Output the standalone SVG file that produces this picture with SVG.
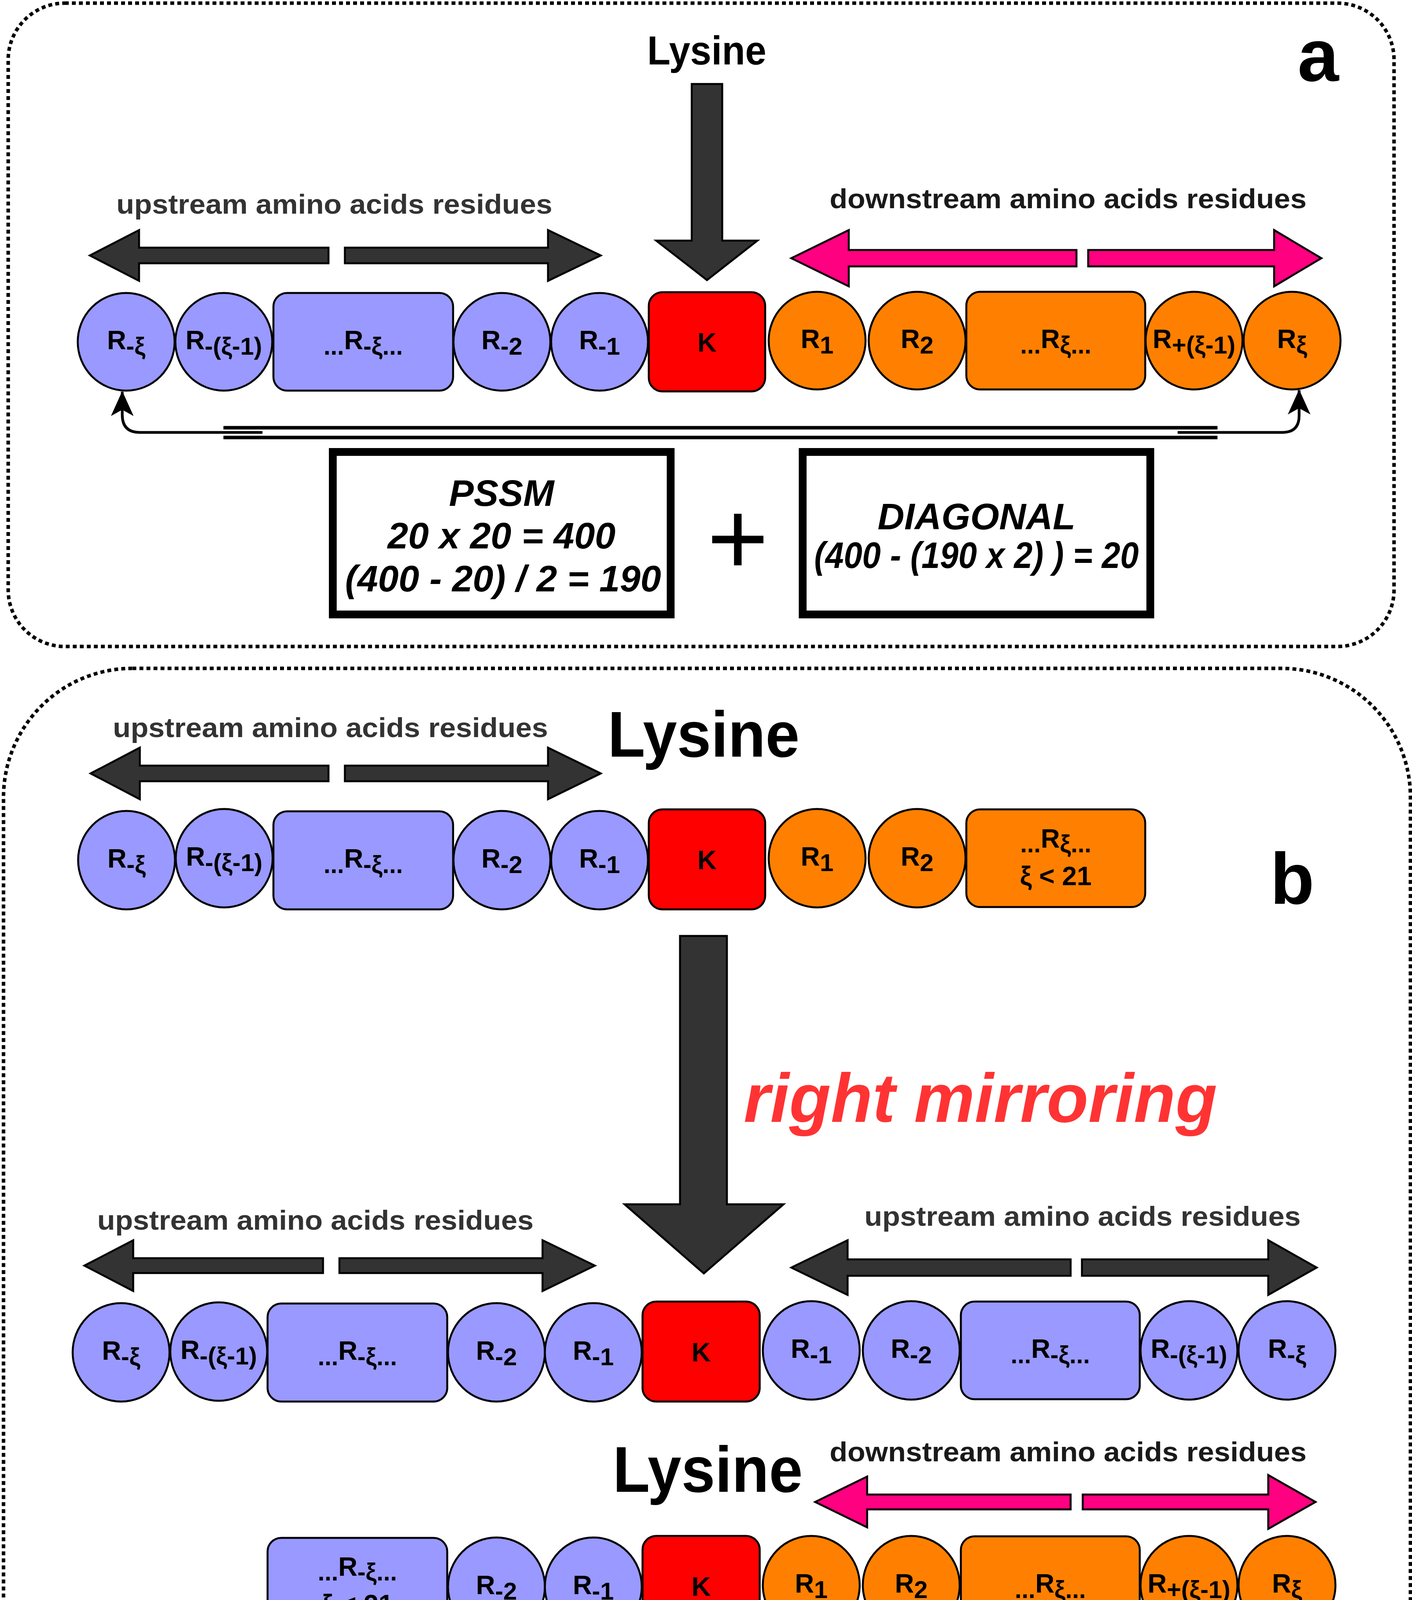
<svg xmlns="http://www.w3.org/2000/svg" width="3615" height="5560" viewBox="0 0 3615 5560">
<defs>
<style>
.frame{fill:none;stroke:#000;stroke-width:9;stroke-dasharray:10 8}
.lav{fill:#9999FF;stroke:#000;stroke-width:5}
.org{fill:#FF8000;stroke:#000;stroke-width:5}
.kk{fill:#FF0000;stroke:#000;stroke-width:5}
.dark{fill:#333333;stroke:#000;stroke-width:5}
.pink{fill:#FF0080;stroke:#000;stroke-width:5}
.lpink{fill:#FF3399;stroke:#000;stroke-width:5}
.big{fill:#333333;stroke:#000;stroke-width:5}
text{font-family:"Liberation Sans",Arial,Helvetica,sans-serif;font-weight:bold}
.lbl{font-size:68px;fill:#000}
.sub{font-size:63px}
.hdr{font-size:70px}
.g3{fill:#333333}
.g1{fill:#1A1A1A}
.lys{fill:#000}
.tag{fill:#000}
.mir{font-style:italic;font-size:176px;fill:#FF3333}
.frm{font-style:italic;font-size:95px;fill:#000}
.fbox{fill:#fff;stroke:#000;stroke-width:20}
.link{fill:none;stroke:#000;stroke-width:9}
.conn{fill:none;stroke:#000;stroke-width:7}
</style>
<marker id="ah" markerUnits="userSpaceOnUse" markerWidth="64" markerHeight="60" viewBox="0 0 64 60" refX="62" refY="30" orient="auto">
<path d="M0,1 L64,30 L0,59 L16,30 Z" fill="#000"/>
</marker>
</defs>
<rect width="3615" height="5560" fill="#fff"/>

<g id="frame-a"><rect class="frame" x="21" y="8" width="3548" height="1647" rx="145" ry="145"/></g>
<g id="frame-b"><rect class="frame" x="9" y="1711" width="3602" height="3842" rx="330" ry="330"/></g>

<!-- ===== Panel a ===== -->
<g id="label-a"><text class="tag" x="3322" y="207" font-size="190">a</text></g>
<g id="lysine-a"><text class="lys" x="1657" y="165" font-size="103" textLength="305" lengthAdjust="spacingAndGlyphs">Lysine</text></g>
<g id="bigarrow-a"><polygon class="big" points="1771,215 1849,215 1849,616 1939,616 1810,717 1680,616 1771,616"/></g>

<g id="up-a">
<text class="hdr g3" x="298" y="547" textLength="1116" lengthAdjust="spacingAndGlyphs">upstream amino acids residues</text>
<polygon class="dark" points="230,654 356,589 356,634 841,634 841,674 356,674 356,719"/>
<polygon class="dark" points="883,634 1403,634 1403,589 1538,654 1403,719 1403,674 883,674"/>
</g>
<g id="down-a">
<text class="hdr g1" x="2124" y="533" textLength="1221" lengthAdjust="spacingAndGlyphs">downstream amino acids residues</text>
<polygon class="pink" points="2026,661 2173,589 2173,640 2756,640 2756,682 2173,682 2173,733"/>
<polygon class="pink" points="2786,640 3262,640 3262,589 3383,661 3262,733 3262,682 2786,682"/>
</g>

<g id="a-rmxi"><ellipse class="lav" cx="323" cy="875" rx="124" ry="125"/><text class="lbl" x="323" y="894" text-anchor="middle">R<tspan class="sub" dy="14">-ξ</tspan></text></g>
<g id="a-rmxi1"><ellipse class="lav" cx="573" cy="875" rx="124" ry="125"/><text class="lbl" x="573" y="894" text-anchor="middle">R<tspan class="sub" dy="14">-(ξ-1)</tspan></text></g>
<g id="a-rmdots"><rect class="lav" x="700" y="750" width="460" height="250" rx="35"/><text class="lbl" x="930" y="894" text-anchor="middle"><tspan class="sub" dy="14">...</tspan><tspan dy="-14">R</tspan><tspan class="sub" dy="14">-ξ...</tspan></text></g>
<g id="a-rm2"><ellipse class="lav" cx="1285" cy="875" rx="124" ry="125"/><text class="lbl" x="1285" y="894" text-anchor="middle">R<tspan class="sub" dy="14">-2</tspan></text></g>
<g id="a-rm1"><ellipse class="lav" cx="1535" cy="875" rx="124" ry="125"/><text class="lbl" x="1535" y="894" text-anchor="middle">R<tspan class="sub" dy="14">-1</tspan></text></g>
<g id="a-k"><rect class="kk" x="1661" y="748" width="298" height="254" rx="35"/><text class="lbl" x="1810" y="900" text-anchor="middle">K</text></g>
<g id="a-r1"><ellipse class="org" cx="2092" cy="872" rx="124" ry="125"/><text class="lbl" x="2092" y="891" text-anchor="middle">R<tspan class="sub" dy="14">1</tspan></text></g>
<g id="a-r2"><ellipse class="org" cx="2348" cy="872" rx="124" ry="125"/><text class="lbl" x="2348" y="891" text-anchor="middle">R<tspan class="sub" dy="14">2</tspan></text></g>
<g id="a-rdots"><rect class="org" x="2474" y="747" width="458" height="250" rx="35"/><text class="lbl" x="2703" y="891" text-anchor="middle"><tspan class="sub" dy="14">...</tspan><tspan dy="-14">R</tspan><tspan class="sub" dy="14">ξ...</tspan></text></g>
<g id="a-rpxi1"><ellipse class="org" cx="3057" cy="872" rx="124" ry="125"/><text class="lbl" x="3057" y="891" text-anchor="middle">R<tspan class="sub" dy="14">+(ξ-1)</tspan></text></g>
<g id="a-rxi"><ellipse class="org" cx="3308" cy="872" rx="124" ry="125"/><text class="lbl" x="3308" y="891" text-anchor="middle">R<tspan class="sub" dy="14">ξ</tspan></text></g>

<g id="connectors-a">
<line class="link" x1="572" y1="1095" x2="3117" y2="1095"/>
<line class="link" x1="572" y1="1120" x2="3117" y2="1120"/>
<path class="conn" d="M672,1107 L358,1107 Q313,1107 313,1062 L313,1003" marker-end="url(#ah)"/>
<path class="conn" d="M3015,1107 L3283,1107 Q3326,1107 3326,1064 L3326,999" marker-end="url(#ah)"/>
</g>

<g id="pssm-box"><rect class="fbox" x="852" y="1157" width="865" height="416"/>
<text class="frm" x="1284" y="1295" text-anchor="middle">PSSM</text>
<text class="frm" x="1284" y="1404" text-anchor="middle">20 x 20 = 400</text>
<text class="frm" x="1288" y="1514" text-anchor="middle" textLength="809" lengthAdjust="spacingAndGlyphs">(400 - 20) / 2 = 190</text>
</g>
<g id="plus"><text x="1889" y="1471" text-anchor="middle" font-size="270" style="font-weight:normal" fill="#000">+</text></g>
<g id="diagonal-box"><rect class="fbox" x="2055" y="1157" width="890" height="416"/>
<text class="frm" x="2500" y="1355" text-anchor="middle">DIAGONAL</text>
<text class="frm" x="2500" y="1454" text-anchor="middle" textLength="831" lengthAdjust="spacingAndGlyphs">(400 - (190 x 2) ) = 20</text>
</g>

<!-- ===== Panel b ===== -->
<g id="label-b"><text class="tag" x="3252" y="2314" font-size="185">b</text></g>
<g id="lysine-b1"><text class="lys" x="1556" y="1937" font-size="165" textLength="491" lengthAdjust="spacingAndGlyphs">Lysine</text></g>
<g id="up-b1">
<text class="hdr g3" x="289" y="1887" textLength="1114" lengthAdjust="spacingAndGlyphs">upstream amino acids residues</text>
<polygon class="dark" points="232,1980 358,1914 358,1960 841,1960 841,2000 358,2000 358,2046"/>
<polygon class="dark" points="883,1960 1403,1960 1403,1914 1538,1980 1403,2046 1403,2000 883,2000"/>
</g>

<g id="b1-rmxi"><ellipse class="lav" cx="324" cy="2202" rx="124" ry="126"/><text class="lbl" x="324" y="2221" text-anchor="middle">R<tspan class="sub" dy="14">-ξ</tspan></text></g>
<g id="b1-rmxi1"><ellipse class="lav" cx="574" cy="2197" rx="124" ry="126"/><text class="lbl" x="574" y="2216" text-anchor="middle">R<tspan class="sub" dy="14">-(ξ-1)</tspan></text></g>
<g id="b1-rmdots"><rect class="lav" x="700" y="2077" width="460" height="251" rx="35"/><text class="lbl" x="930" y="2221" text-anchor="middle"><tspan class="sub" dy="14">...</tspan><tspan dy="-14">R</tspan><tspan class="sub" dy="14">-ξ...</tspan></text></g>
<g id="b1-rm2"><ellipse class="lav" cx="1285" cy="2202" rx="124" ry="126"/><text class="lbl" x="1285" y="2221" text-anchor="middle">R<tspan class="sub" dy="14">-2</tspan></text></g>
<g id="b1-rm1"><ellipse class="lav" cx="1535" cy="2202" rx="124" ry="126"/><text class="lbl" x="1535" y="2221" text-anchor="middle">R<tspan class="sub" dy="14">-1</tspan></text></g>
<g id="b1-k"><rect class="kk" x="1661" y="2072" width="298" height="256" rx="35"/><text class="lbl" x="1810" y="2225" text-anchor="middle">K</text></g>
<g id="b1-r1"><ellipse class="org" cx="2092" cy="2197" rx="124" ry="126"/><text class="lbl" x="2092" y="2216" text-anchor="middle">R<tspan class="sub" dy="14">1</tspan></text></g>
<g id="b1-r2"><ellipse class="org" cx="2348" cy="2197" rx="124" ry="126"/><text class="lbl" x="2348" y="2216" text-anchor="middle">R<tspan class="sub" dy="14">2</tspan></text></g>
<g id="b1-rdots"><rect class="org" x="2474" y="2072" width="458" height="250" rx="35"/>
<text class="lbl" x="2703" y="2170" text-anchor="middle"><tspan class="sub" dy="12">...</tspan><tspan dy="-12">R</tspan><tspan class="sub" dy="12">ξ...</tspan></text>
<text class="lbl" x="2703" y="2266" text-anchor="middle">ξ &lt; 21</text></g>

<g id="bigarrow-b1"><polygon class="big" points="1741,2396 1861,2396 1861,3083 2006,3083 1802,3260 1599,3083 1741,3083"/></g>
<g id="right-mirroring"><text class="mir" x="1904" y="2872" textLength="1212" lengthAdjust="spacingAndGlyphs">right mirroring</text></g>

<g id="up-b2-left">
<text class="hdr g3" x="249" y="3148" textLength="1117" lengthAdjust="spacingAndGlyphs">upstream amino acids residues</text>
<polygon class="dark" points="216,3240 341,3175 341,3221 827,3221 827,3259 341,3259 341,3305"/>
<polygon class="dark" points="869,3221 1389,3221 1389,3175 1523,3240 1389,3305 1389,3259 869,3259"/>
</g>
<g id="up-b2-right">
<text class="hdr g3" x="2213" y="3138" textLength="1117" lengthAdjust="spacingAndGlyphs">upstream amino acids residues</text>
<polygon class="dark" points="2026,3245 2170,3175 2170,3224 2741,3224 2741,3266 2170,3266 2170,3315"/>
<polygon class="dark" points="2770,3224 3247,3224 3247,3175 3371,3245 3247,3315 3247,3266 2770,3266"/>
</g>

<g id="b2-rmxi"><ellipse class="lav" cx="310" cy="3462" rx="124" ry="126"/><text class="lbl" x="310" y="3481" text-anchor="middle">R<tspan class="sub" dy="14">-ξ</tspan></text></g>
<g id="b2-rmxi1"><ellipse class="lav" cx="560" cy="3460" rx="124" ry="126"/><text class="lbl" x="560" y="3479" text-anchor="middle">R<tspan class="sub" dy="14">-(ξ-1)</tspan></text></g>
<g id="b2-rmdots"><rect class="lav" x="685" y="3337" width="460" height="251" rx="35"/><text class="lbl" x="915" y="3481" text-anchor="middle"><tspan class="sub" dy="14">...</tspan><tspan dy="-14">R</tspan><tspan class="sub" dy="14">-ξ...</tspan></text></g>
<g id="b2-rm2"><ellipse class="lav" cx="1271" cy="3462" rx="124" ry="126"/><text class="lbl" x="1271" y="3481" text-anchor="middle">R<tspan class="sub" dy="14">-2</tspan></text></g>
<g id="b2-rm1"><ellipse class="lav" cx="1519" cy="3462" rx="124" ry="126"/><text class="lbl" x="1519" y="3481" text-anchor="middle">R<tspan class="sub" dy="14">-1</tspan></text></g>
<g id="b2-k"><rect class="kk" x="1645" y="3332" width="300" height="256" rx="35"/><text class="lbl" x="1795" y="3485" text-anchor="middle">K</text></g>
<g id="b2-rm1b"><ellipse class="lav" cx="2077" cy="3457" rx="124" ry="126"/><text class="lbl" x="2077" y="3476" text-anchor="middle">R<tspan class="sub" dy="14">-1</tspan></text></g>
<g id="b2-rm2b"><ellipse class="lav" cx="2333" cy="3457" rx="124" ry="126"/><text class="lbl" x="2333" y="3476" text-anchor="middle">R<tspan class="sub" dy="14">-2</tspan></text></g>
<g id="b2-rmdotsb"><rect class="lav" x="2460" y="3332" width="458" height="250" rx="35"/><text class="lbl" x="2689" y="3476" text-anchor="middle"><tspan class="sub" dy="14">...</tspan><tspan dy="-14">R</tspan><tspan class="sub" dy="14">-ξ...</tspan></text></g>
<g id="b2-rmxi1b"><ellipse class="lav" cx="3044" cy="3457" rx="124" ry="126"/><text class="lbl" x="3044" y="3476" text-anchor="middle">R<tspan class="sub" dy="14">-(ξ-1)</tspan></text></g>
<g id="b2-rmxib"><ellipse class="lav" cx="3295" cy="3457" rx="124" ry="126"/><text class="lbl" x="3295" y="3476" text-anchor="middle">R<tspan class="sub" dy="14">-ξ</tspan></text></g>

<g id="lysine-b3"><text class="lys" x="1569" y="3819" font-size="165" textLength="486" lengthAdjust="spacingAndGlyphs">Lysine</text></g>
<g id="down-b3">
<text class="hdr g1" x="2124" y="3741" textLength="1221" lengthAdjust="spacingAndGlyphs">downstream amino acids residues</text>
<polygon class="pink" points="2087,3845 2220,3780 2220,3826 2741,3826 2741,3864 2220,3864 2220,3910"/>
<polygon class="pink" points="2772,3826 3247,3826 3247,3776 3368,3845 3247,3914 3247,3864 2772,3864"/>
</g>

<g id="b3-rmdots"><rect class="lav" x="685" y="3937" width="460" height="251" rx="35"/>
<text class="lbl" x="915" y="4034" text-anchor="middle"><tspan class="sub" dy="12">...</tspan><tspan dy="-12">R</tspan><tspan class="sub" dy="12">-ξ...</tspan></text>
<text class="lbl" x="915" y="4130" text-anchor="middle">ξ &lt; 21</text></g>
<g id="b3-rm2"><ellipse class="lav" cx="1271" cy="4062" rx="124" ry="126"/><text class="lbl" x="1271" y="4081" text-anchor="middle">R<tspan class="sub" dy="14">-2</tspan></text></g>
<g id="b3-rm1"><ellipse class="lav" cx="1519" cy="4062" rx="124" ry="126"/><text class="lbl" x="1519" y="4081" text-anchor="middle">R<tspan class="sub" dy="14">-1</tspan></text></g>
<g id="b3-k"><rect class="kk" x="1645" y="3932" width="300" height="256" rx="35"/><text class="lbl" x="1795" y="4085" text-anchor="middle">K</text></g>
<g id="b3-r1"><ellipse class="org" cx="2077" cy="4058" rx="124" ry="126"/><text class="lbl" x="2077" y="4077" text-anchor="middle">R<tspan class="sub" dy="14">1</tspan></text></g>
<g id="b3-r2"><ellipse class="org" cx="2333" cy="4058" rx="124" ry="126"/><text class="lbl" x="2333" y="4077" text-anchor="middle">R<tspan class="sub" dy="14">2</tspan></text></g>
<g id="b3-rdots"><rect class="org" x="2460" y="3933" width="458" height="250" rx="35"/><text class="lbl" x="2689" y="4077" text-anchor="middle"><tspan class="sub" dy="14">...</tspan><tspan dy="-14">R</tspan><tspan class="sub" dy="14">ξ...</tspan></text></g>
<g id="b3-rpxi1"><ellipse class="org" cx="3044" cy="4058" rx="124" ry="126"/><text class="lbl" x="3044" y="4077" text-anchor="middle">R<tspan class="sub" dy="14">+(ξ-1)</tspan></text></g>
<g id="b3-rxi"><ellipse class="org" cx="3295" cy="4058" rx="124" ry="126"/><text class="lbl" x="3295" y="4077" text-anchor="middle">R<tspan class="sub" dy="14">ξ</tspan></text></g>

<g id="bigarrow-b2"><polygon class="big" points="1751,4231 1869,4231 1869,4919 2012,4919 1810,5092 1607,4919 1751,4919"/></g>
<g id="left-mirroring"><text class="mir" x="603" y="4734" textLength="1085" lengthAdjust="spacingAndGlyphs">left mirroring</text></g>

<g id="up-b4">
<text class="hdr g1" x="255" y="4946" textLength="1115" lengthAdjust="spacingAndGlyphs">upstream amino acids residues</text>
<polygon class="lpink" points="224,5035 348,4970 348,5015 835,5015 835,5055 348,5055 348,5100"/>
<polygon class="lpink" points="876,5015 1398,5015 1398,4970 1530,5035 1398,5100 1398,5055 876,5055"/>
</g>
<g id="down-b4">
<text class="hdr g1" x="2115" y="4948" textLength="1219" lengthAdjust="spacingAndGlyphs">downstream amino acids residues</text>
<polygon class="pink" points="2064,5044 2197,4981 2197,5024 2718,5024 2718,5064 2197,5064 2197,5107"/>
<polygon class="pink" points="2757,5024 3250,5024 3250,4971 3376,5044 3250,5117 3250,5064 2757,5064"/>
</g>

<g id="b4-rxi"><ellipse class="org" cx="317" cy="5257" rx="124" ry="126"/><text class="lbl" x="317" y="5276" text-anchor="middle">R<tspan class="sub" dy="14">ξ</tspan></text></g>
<g id="b4-rpxi1"><ellipse class="org" cx="566" cy="5253" rx="124" ry="126"/><text class="lbl" x="566" y="5272" text-anchor="middle">R<tspan class="sub" dy="14">+(ξ-1)</tspan></text></g>
<g id="b4-rdots"><rect class="org" x="692" y="5132" width="462" height="251" rx="35"/><text class="lbl" x="923" y="5276" text-anchor="middle"><tspan class="sub" dy="14">...</tspan><tspan dy="-14">R</tspan><tspan class="sub" dy="14">ξ...</tspan></text></g>
<g id="b4-r2"><ellipse class="org" cx="1279" cy="5257" rx="124" ry="126"/><text class="lbl" x="1279" y="5276" text-anchor="middle">R<tspan class="sub" dy="14">2</tspan></text></g>
<g id="b4-r1"><ellipse class="org" cx="1528" cy="5257" rx="124" ry="126"/><text class="lbl" x="1528" y="5276" text-anchor="middle">R<tspan class="sub" dy="14">1</tspan></text></g>
<g id="b4-k"><rect class="kk" x="1653" y="5127" width="297" height="256" rx="35"/><text class="lbl" x="1801" y="5280" text-anchor="middle">K</text></g>
<g id="b4-r1b"><ellipse class="org" cx="2085" cy="5252" rx="124" ry="126"/><text class="lbl" x="2085" y="5271" text-anchor="middle">R<tspan class="sub" dy="14">1</tspan></text></g>
<g id="b4-r2b"><ellipse class="org" cx="2340" cy="5252" rx="124" ry="126"/><text class="lbl" x="2340" y="5271" text-anchor="middle">R<tspan class="sub" dy="14">2</tspan></text></g>
<g id="b4-rdotsb"><rect class="org" x="2468" y="5127" width="458" height="250" rx="35"/><text class="lbl" x="2697" y="5271" text-anchor="middle"><tspan class="sub" dy="14">...</tspan><tspan dy="-14">R</tspan><tspan class="sub" dy="14">ξ...</tspan></text></g>
<g id="b4-rpxi1b"><ellipse class="org" cx="3052" cy="5252" rx="124" ry="126"/><text class="lbl" x="3052" y="5271" text-anchor="middle">R<tspan class="sub" dy="14">+(ξ-1)</tspan></text></g>
<g id="b4-rxib"><ellipse class="org" cx="3302" cy="5252" rx="124" ry="126"/><text class="lbl" x="3302" y="5271" text-anchor="middle">R<tspan class="sub" dy="14">ξ</tspan></text></g>
</svg>
